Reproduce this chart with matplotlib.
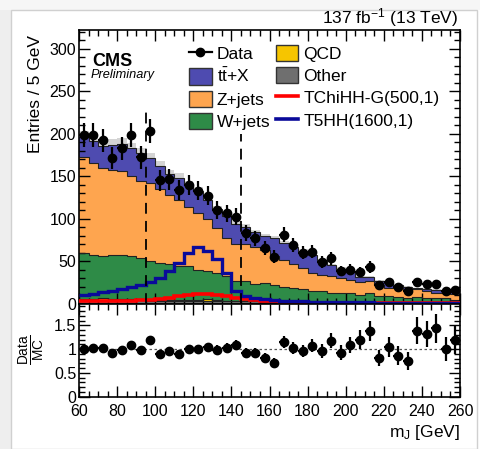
import numpy as np
import matplotlib
matplotlib.use("Agg")
import matplotlib.pyplot as plt
from matplotlib.patches import Patch, Rectangle
from matplotlib.lines import Line2D
from matplotlib.ticker import MultipleLocator

plt.rcParams['font.family'] = ['Liberation Sans', 'DejaVu Sans']
plt.rcParams['mathtext.fontset'] = 'custom'
plt.rcParams['mathtext.rm'] = 'Liberation Sans'
plt.rcParams['mathtext.it'] = 'Liberation Sans:italic'
plt.rcParams['mathtext.bf'] = 'Liberation Sans:bold'

# 5 GeV bins of the jet mass
bin_edges = np.arange(60, 265, 5)

data = [198, 198, 192, 171, 183, 198, 172, 203, 145, 146,
        134, 140, 133, 127, 110, 106, 102, 83, 77, 65,
        55, 81, 69, 60, 61, 49, 53, 38, 40, 37,
        43, 22, 25, 19, 15, 25, 23, 23, 15, 16]

other = [4, 4, 4, 4, 4, 4, 4, 3.5, 3.5, 3.5,
         3, 3, 3, 3, 3, 2.5, 2.5, 2.5, 2.5, 2,
         2, 2, 2, 2, 2, 1.5, 1.5, 1.5, 1.5, 1.5,
         1.5, 1, 1, 1, 1, 1, 1, 1, 1, 1]
qcd = [1.5, 1.5, 2, 1.5, 1, 1, 1, 1, 1, 1,
       1, 1, 1, 2, 1, 1, 1, 1, 0.5, 0.5,
       0.5, 0.5, 0.5, 0.5, 0.5, 0.5, 0.5, 0.5, 0.5, 0.5,
       0.5, 0.5, 0.5, 0.3, 0.3, 0.3, 0.3, 0.3, 0.3, 0.3]
wjets = [54, 52, 50.5, 52, 52.5, 50.5, 48.5, 45, 43, 41.5,
         40, 40, 36, 33, 32, 28.5, 22.5, 22.5, 20.5, 21.5,
         19.5, 17.5, 16, 14, 12, 12.5, 10.5, 10, 10.5, 8.5,
         10.5, 7, 7, 6.7, 5.4, 6.2, 5.4, 4.7, 4.7, 3.4]
zjets = [113, 108.4, 103.5, 100, 98, 94.3, 90.3, 92.2, 87.2, 82.1,
         78, 70, 67, 61, 53, 45, 44, 44, 42.5, 39.5,
         33.7, 31.8, 27.5, 25.5, 21.5, 19.5, 19.5, 18, 15.5, 15.4,
         13.5, 13.4, 9.8, 10.4, 9.8, 9, 7.8, 6.5, 6.5, 5.9]
ttx = [23.5, 26, 26, 29.4, 32.4, 33, 33, 30, 27, 24,
       26, 25, 25, 23, 22, 26, 24, 20, 18, 15.5,
       21.3, 19.2, 21, 20, 21, 17, 13, 11, 9, 5,
       5, 5, 5.6, 3.6, 3.5, 1.5, 3, 3.5, 2.5, 2.9]

# relative uncertainty of the simulated total
mc_unc = 0.035

tchihh = [3, 3, 3, 3, 3, 3.5, 4, 4.5, 5.5, 7,
          8.5, 10, 11, 11, 10.5, 9, 7, 5, 4, 3,
          2.5, 2, 1.5, 1.2, 1, 1, 0.8, 0.8, 0.6, 0.6,
          0.5, 0.5, 0.4, 0.4, 0.3, 0.3, 0.3, 0.3, 0.2, 0.2]
t5hh = [10, 11.5, 13, 15, 17, 19, 22, 25, 30, 38,
        48, 59, 66, 62, 52, 36, 15, 9, 7, 5.5,
        4.5, 3.5, 3, 2.5, 2, 2, 1.5, 1.5, 1.5, 1.2,
        1.2, 1, 1, 1, 1, 0.8, 0.8, 0.8, 0.8, 0.8]

# Higgs mass window edges and the heights of their markers
window = [95, 145]
window_top = [230, 200]

stack = [("Other", other, "#6f6f6f"),
         ("QCD", qcd, "#f6c500"),
         ("W+jets", wjets, "#2e8b47"),
         ("Z+jets", zjets, "#fea54f"),
         (r"$\mathrm{t\bar{t}}$+X", ttx, "#4e4bb0")]

W, H = 481, 449
fig = plt.figure(figsize=(W / 100, H / 100), dpi=100, facecolor="white")

# page card behind the figure
fig.patches.append(Rectangle((0, 0), 11 / W, 1, transform=fig.transFigure,
                             facecolor="#eeeeee", edgecolor="none", zorder=-10))
fig.patches.append(Rectangle((0, 1 - 10 / H), 1, 10 / H, transform=fig.transFigure,
                             facecolor="#f6f6f6", edgecolor="none", zorder=-10))
fig.patches.append(Rectangle((11 / W, 0), (477 - 11) / W, 1 - 10 / H,
                             transform=fig.transFigure, facecolor="white",
                             edgecolor="#d0d0d0", lw=1.0, zorder=-9))


def fx(px):
    return px / W


def fy(py):
    return 1 - py / H


x0, x1 = 79, 460
ytop, ymid, ybot = 30, 303.5, 396.7
ax = fig.add_axes([fx(x0), fy(ymid), fx(x1) - fx(x0), fy(ytop) - fy(ymid)])
rax = fig.add_axes([fx(x0), fy(ybot), fx(x1) - fx(x0), fy(ymid) - fy(ybot)], sharex=ax)

centers = 0.5 * (bin_edges[1:] + bin_edges[:-1])
base = np.zeros(len(centers))
for name, vals, col in stack:
    top = base + np.asarray(vals, float)
    ax.stairs(top, bin_edges, baseline=base, fill=True, color=col, lw=0, zorder=1)
    ax.stairs(top, bin_edges, baseline=None, color="#222222", lw=0.8, zorder=2)
    base = top
total = base

# uncertainty band, drawn beneath the stack
ax.stairs(total * (1 + mc_unc), bin_edges, baseline=total * (1 - mc_unc),
          fill=True, color="#d4d4d4", lw=0, zorder=0.5)

# signal shapes
ax.stairs(tchihh, bin_edges, baseline=None, color="#ff0000", lw=2.6, zorder=3)
ax.stairs(t5hh, bin_edges, baseline=None, color="#0a0a9a", lw=2.4, zorder=3)

# Higgs mass window
for xw, hw in zip(window, window_top):
    ax.vlines(xw, 0, hw, colors="black", linestyles=(0, (6, 4)), lw=1.3, zorder=4)

data = np.asarray(data, float)
ax.errorbar(centers, data, yerr=np.sqrt(data), xerr=2.5, fmt="o", color="black",
            ms=6, elinewidth=1.6, capsize=0, zorder=5)

ratio = data / total
rerr = np.sqrt(data) / total
rax.errorbar(centers, ratio, yerr=rerr, xerr=2.5, fmt="o", color="black",
             ms=6, elinewidth=1.6, capsize=0, zorder=5)
rax.axhline(1.0, color="#555555", ls=(0, (2, 2)), lw=0.9, zorder=1)

ax.set_xlim(60, 260)
ax.set_ylim(0, 322)
rax.set_ylim(0, 1.96)

for a in (ax, rax):
    a.tick_params(which="both", direction="in", top=True, right=True,
                  labelsize=11.5, colors="black", width=1.0)
    a.tick_params(which="major", length=8)
    a.tick_params(which="minor", length=4)
    a.xaxis.set_major_locator(MultipleLocator(20))
    a.xaxis.set_minor_locator(MultipleLocator(5))
    for s in a.spines.values():
        s.set_linewidth(1.2)
ax.yaxis.set_major_locator(MultipleLocator(50))
ax.yaxis.set_minor_locator(MultipleLocator(10))
rax.yaxis.set_major_locator(MultipleLocator(0.5))
rax.yaxis.set_minor_locator(MultipleLocator(0.1))
rax.set_yticks([0, 0.5, 1, 1.5])
rax.set_yticklabels(["0", "0.5", "1", "1.5"])
ax.tick_params(labelbottom=False, pad=2)
rax.tick_params(axis="y", pad=2)
rax.tick_params(axis="x", pad=5)

fig.text(fx(35), fy(35), "Entries / 5 GeV", rotation=90, ha="center", va="top",
         fontsize=12.5)
fig.text(fx(32), fy(350), r"$\frac{\mathrm{Data}}{\mathrm{MC}}$", rotation=90,
         ha="center", va="center", fontsize=14)
fig.text(fx(460), fy(432), r"m$_{\mathrm{J}}$ [GeV]", ha="right", va="center",
         fontsize=12.5)
fig.text(fx(458), fy(18), r"137 fb$^{\mathrm{-1}}$ (13 TeV)", ha="right",
         va="center", fontsize=12.5)
fig.text(fx(92), fy(62), "CMS", ha="left", va="center", fontsize=13,
         fontweight="bold")
fig.text(fx(91), fy(75), "Preliminary", ha="left", va="center", fontsize=9.2,
         style="italic")

handles = [Line2D([0], [0], color="black", marker="o", ms=6, lw=1.6),
           Patch(facecolor="#4e4bb0", edgecolor="#333333"),
           Patch(facecolor="#fea54f", edgecolor="#333333"),
           Patch(facecolor="#2e8b47", edgecolor="#333333"),
           Patch(facecolor="#f6c500", edgecolor="#333333"),
           Patch(facecolor="#6f6f6f", edgecolor="#333333"),
           Line2D([0], [0], color="#ff0000", lw=2.6),
           Line2D([0], [0], color="#0a0a9a", lw=2.6)]
labels = ["Data", r"$\mathrm{t\bar{t}}$+X", "Z+jets", "W+jets",
          "QCD", "Other", "TChiHH-G(500,1)", "T5HH(1600,1)"]
fig.legend(handles, labels, ncol=2, loc="upper left",
           bbox_to_anchor=(fx(189), fy(45)), frameon=False, fontsize=12.5,
           handlelength=1.3, handleheight=1.05, handletextpad=0.3,
           columnspacing=0.3, labelspacing=0.3, borderpad=0, borderaxespad=0)

fig.savefig("out.png", dpi=100, facecolor=fig.get_facecolor())
